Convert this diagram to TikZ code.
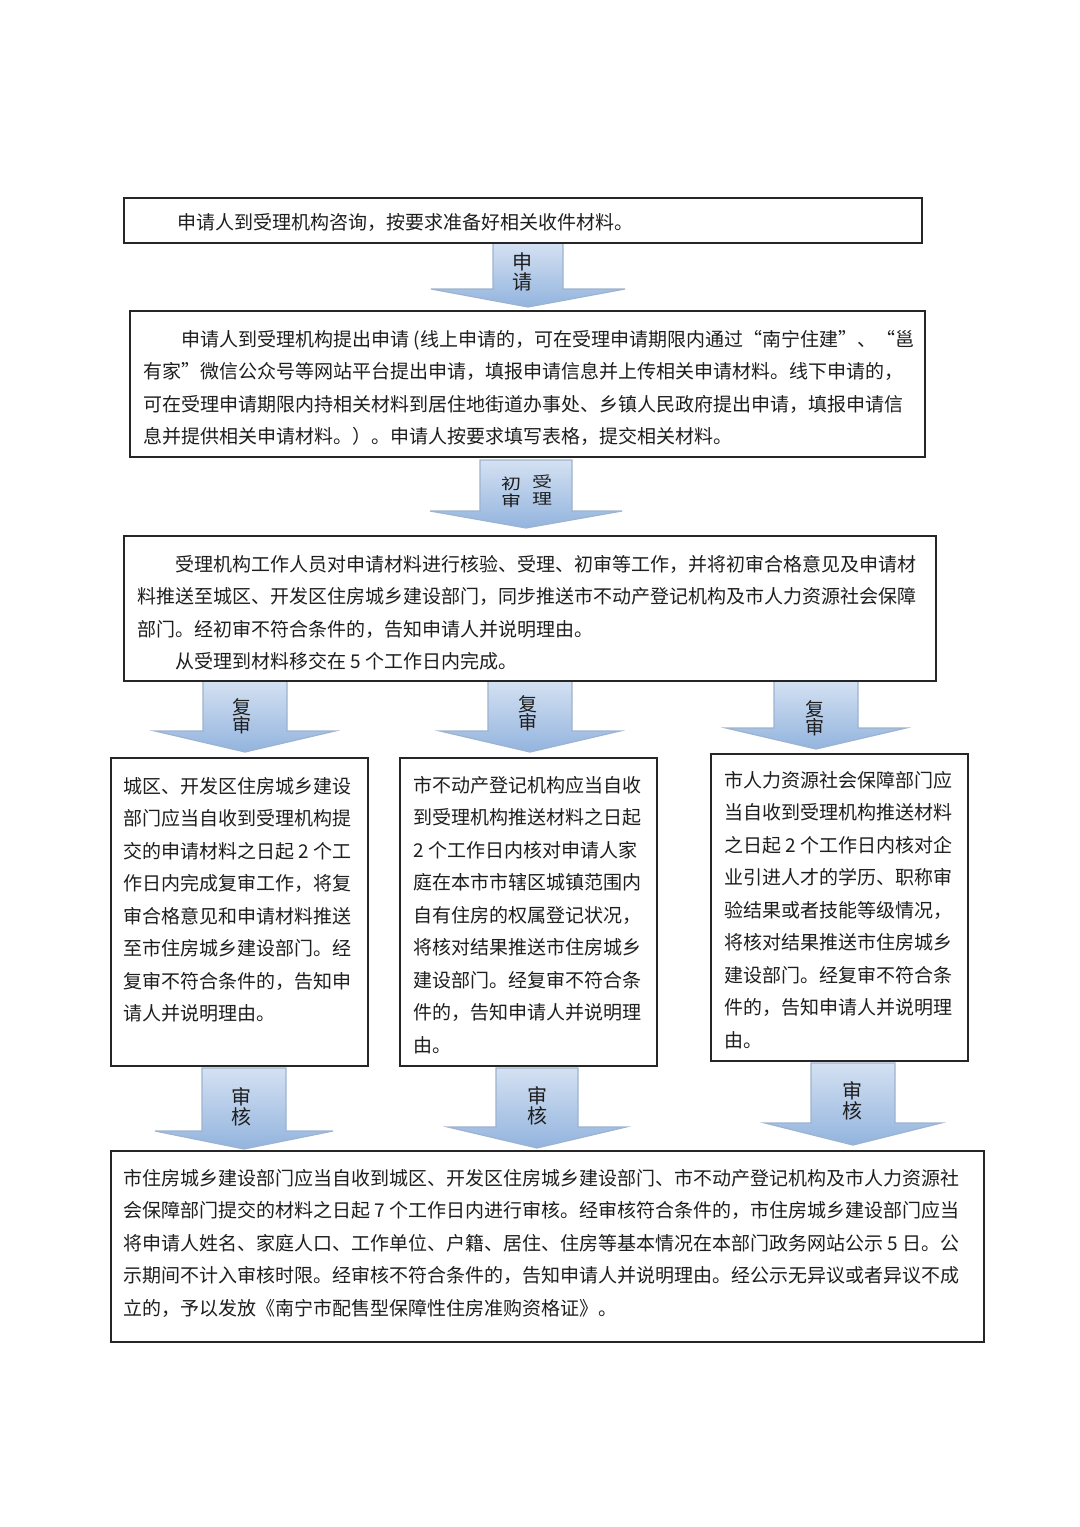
\documentclass[tikz,border=0pt]{standalone}
\usepackage{fontspec}
\usepackage{graphicx}
\newfontfamily\cjk{Noto Sans CJK SC}
\definecolor{boxc}{HTML}{262626}
\definecolor{txtc}{HTML}{1E1E1E}
\definecolor{arrtop}{HTML}{D4E1F2}
\definecolor{arrbot}{HTML}{93B4DE}
\definecolor{arredge}{HTML}{9DB3CF}
\tikzset{
  box/.style={draw=boxc, line width=0.8pt, fill=white, inner sep=0pt, anchor=north west},
  txt/.style={anchor=base west, inner sep=0pt, text=txtc, font=\cjk\fontsize{9.5}{16.25}\selectfont},
  barrow/.style={top color=arrtop, bottom color=arrbot, draw=arredge, line width=0.6pt},
  alabel/.style={inner sep=0pt, text=txtc, font=\cjk\fontsize{10}{10.2}\selectfont, align=center},
  slabel/.style={inner sep=0pt, text=txtc, font=\cjk\fontsize{9.5}{9.2}\selectfont, align=center},
}
% cx, top, stem half width, head base, head half width, tip
\newcommand{\bkarrow}[6]{%
  \path[barrow] ({#1-#3},#2) -- ({#1+#3},#2) -- ({#1+#3},#4) -- ({#1+#5},#4) -- (#1,#6) -- ({#1-#5},#4) -- ({#1-#3},#4) -- cycle;}
\newcommand{\tl}[1]{\begin{tabular}[t]{@{}l@{}}#1\end{tabular}}
\begin{document}
\begin{tikzpicture}[x=0.5pt,y=-0.5pt]
\fill[white] (0,0) rectangle (1080,1527);
\useasboundingbox (0,0) rectangle (1080,1527);

% block arrows (drawn first, boxes overlay)
\bkarrow{528}{243}{35}{289}{97}{307}
\bkarrow{526}{460}{46}{511}{96}{528}
\bkarrow{245}{681}{42}{731}{90}{752}
\bkarrow{530}{681}{42}{731}{90}{752}
\bkarrow{816}{681}{42}{728}{90}{749}
\bkarrow{244}{1068}{42}{1131}{89}{1149}
\bkarrow{537}{1068}{41}{1127}{89}{1148}
\bkarrow{853}{1063}{42}{1123}{88}{1145}

% boxes
\node[box, minimum width=399pt, minimum height=22.5pt] (b1) at (123,197) {};
\node[box, minimum width=397.5pt, minimum height=73pt] (b2) at (129,310) {};
\node[box, minimum width=406pt, minimum height=72.5pt] (b3) at (123,535) {};
\node[box, minimum width=128.5pt, minimum height=154pt] (ba) at (110,757) {};
\node[box, minimum width=128.5pt, minimum height=154pt] (bb) at (399,757) {};
\node[box, minimum width=128.5pt, minimum height=153.5pt] (bc) at (710,753) {};
\node[box, minimum width=436.5pt, minimum height=95.5pt] (b4) at (110,1150) {};

% texts
\node[txt] (t1) at (177,229) {申请人到受理机构咨询，按要求准备好相关收件材料。};
\node[txt] (t2) at (143,346) {\tl{\hspace*{2em}申请人到受理机构提出申请 (线上申请的，可在受理申请期限内通过“南宁住建”、“邕\\
有家”微信公众号等网站平台提出申请，填报申请信息并上传相关申请材料。线下申请的，\\
可在受理申请期限内持相关材料到居住地街道办事处、乡镇人民政府提出申请，填报申请信\\
息并提供相关申请材料。）。申请人按要求填写表格，提交相关材料。}};
\node[txt] (t3) at (137,571) {\tl{\hspace*{2em}受理机构工作人员对申请材料进行核验、受理、初审等工作，并将初审合格意见及申请材\\
料推送至城区、开发区住房城乡建设部门，同步推送市不动产登记机构及市人力资源社会保障\\
部门。经初审不符合条件的，告知申请人并说明理由。\\
\hspace*{2em}从受理到材料移交在 5 个工作日内完成。}};
\node[txt] (ta) at (123,793) {\tl{城区、开发区住房城乡建设\\
部门应当自收到受理机构提\\
交的申请材料之日起 2 个工\\
作日内完成复审工作，将复\\
审合格意见和申请材料推送\\
至市住房城乡建设部门。经\\
复审不符合条件的，告知申\\
请人并说明理由。}};
\node[txt] (tb) at (413,792) {\tl{市不动产登记机构应当自收\\
到受理机构推送材料之日起\\
2 个工作日内核对申请人家\\
庭在本市市辖区城镇范围内\\
自有住房的权属登记状况，\\
将核对结果推送市住房城乡\\
建设部门。经复审不符合条\\
件的，告知申请人并说明理\\
由。}};
\node[txt] (tc) at (724,787) {\tl{市人力资源社会保障部门应\\
当自收到受理机构推送材料\\
之日起 2 个工作日内核对企\\
业引进人才的学历、职称审\\
验结果或者技能等级情况，\\
将核对结果推送市住房城乡\\
建设部门。经复审不符合条\\
件的，告知申请人并说明理\\
由。}};
\node[txt] (t4) at (123,1185) {\tl{市住房城乡建设部门应当自收到城区、开发区住房城乡建设部门、市不动产登记机构及市人力资源社\\
会保障部门提交的材料之日起 7 个工作日内进行审核。经审核符合条件的，市住房城乡建设部门应当\\
将申请人姓名、家庭人口、工作单位、户籍、居住、住房等基本情况在本部门政务网站公示 5 日。公\\
示期间不计入审核时限。经审核不符合条件的，告知申请人并说明理由。经公示无异议或者异议不成\\
立的，予以发放《南宁市配售型保障性住房准购资格证》。}};

% arrow labels
\node[alabel] (l1) at (522,272) {申\\请};
\node[alabel] (l2a) at (511,494) {\scalebox{1}[0.75]{\begin{tabular}{@{}c@{}}初\\审\end{tabular}}};
\node[alabel] (l2b) at (542,492) {\scalebox{1}[0.75]{\begin{tabular}{@{}c@{}}受\\理\end{tabular}}};
\node[slabel] (l3a) at (242,716) {复\\审};
\node[slabel] (l3b) at (528,713) {复\\审};
\node[slabel] (l3c) at (815,718) {复\\审};
\node[alabel] (l4a) at (241,1107) {审\\核};
\node[alabel] (l4b) at (537,1106) {审\\核};
\node[alabel] (l4c) at (852,1101) {审\\核};
\end{tikzpicture}
\end{document}
